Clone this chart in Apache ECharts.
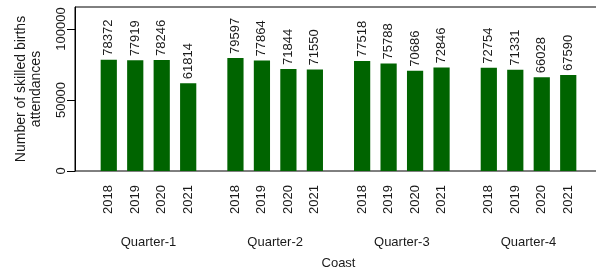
<!DOCTYPE html>
<html>
<head>
<meta charset="utf-8">
<script src="https://cdn.jsdelivr.net/npm/echarts@6/dist/echarts.min.js"></script>
<style>
  html, body { margin: 0; padding: 0; background: #fff; }
  #chart { width: 596px; height: 275px; }
</style>
</head>
<body>
<div id="chart"></div>
<script>
// chart data
const quarters = ['Quarter-1', 'Quarter-2', 'Quarter-3', 'Quarter-4'];
const years = ['2018', '2019', '2020', '2021'];
const quarter1 = [78372, 77919, 78246, 61814];
const quarter2 = [79597, 77864, 71844, 71550];
const quarter3 = [77518, 75788, 70686, 72846];
const quarter4 = [72754, 71331, 66028, 67590];
const yTicks = [0, 50000, 100000];

const font = "'Liberation Sans', Arial, sans-serif";
const textColor = '#1a1a1a';

// one row per bar: [quarter index, value, year index]
const rows = [];
[quarter1, quarter2, quarter3, quarter4].forEach((vals, qi) => {
    vals.forEach((v, yi) => rows.push([qi, v, yi]));
});

// draw one bar with its value on top and its year underneath
function renderBar(params, api) {
    const qi = api.value(0);
    const v = api.value(1);
    const yi = api.value(2);
    const unit = api.size([1, 0])[0];   // pixels per quarter
    const barW = unit * 0.128;
    const step = unit * 0.209;
    const base = api.coord([qi, 0]);
    const top = api.coord([qi, v]);
    const cx = base[0] + (yi - 1.5) * step;
    return {
        type: 'group',
        children: [
            {
                type: 'rect',
                shape: { x: cx - barW / 2, y: top[1], width: barW, height: base[1] - top[1] },
                style: { fill: '#006400' }
            },
            {
                type: 'text',
                x: cx, y: top[1] - 4, rotation: Math.PI / 2,
                style: { text: String(v), align: 'left', verticalAlign: 'middle',
                         font: '13px ' + font, fill: textColor }
            },
            {
                type: 'text',
                x: cx, y: base[1] + 14, rotation: Math.PI / 2,
                style: { text: years[yi], align: 'right', verticalAlign: 'middle',
                         font: '13px ' + font, fill: textColor }
            }
        ]
    };
}

const chart = echarts.init(document.getElementById('chart'));
chart.setOption({
    animation: false,
    grid: {
        left: 75, top: 7, width: 527, height: 164,
        outerBoundsMode: 'none',
        show: true, borderColor: '#000', borderWidth: 1, backgroundColor: 'transparent'
    },
    xAxis: {
        type: 'value', min: -0.58, max: 3.58,
        name: 'Coast', nameLocation: 'middle', nameGap: 86,
        nameTextStyle: { fontFamily: font, fontSize: 13, color: textColor },
        axisLine: { show: false }, axisTick: { show: false }, splitLine: { show: false },
        axisLabel: {
            customValues: [0, 1, 2, 3], formatter: v => quarters[v],
            margin: 65, fontFamily: font, fontSize: 13, color: textColor
        }
    },
    yAxis: {
        type: 'value', min: 0, max: 115500,
        name: 'Number of skilled births\nattendances', nameLocation: 'middle', nameRotate: 90, nameGap: 31,
        nameTextStyle: { fontFamily: font, fontSize: 14, color: textColor, lineHeight: 15 },
        axisLine: { show: true, onZero: false, lineStyle: { color: '#000' } },
        axisTick: { show: true, length: 8, customValues: yTicks, lineStyle: { color: '#000' } },
        splitLine: { show: false },
        axisLabel: {
            customValues: yTicks, rotate: 90, margin: 7, formatter: v => String(v),
            fontFamily: font, fontSize: 13, color: textColor
        }
    },
    series: [{
        type: 'custom',
        renderItem: renderBar,
        encode: { x: 0, y: 1 },
        data: rows,
        clip: false
    }]
});
</script>
</body>
</html>
